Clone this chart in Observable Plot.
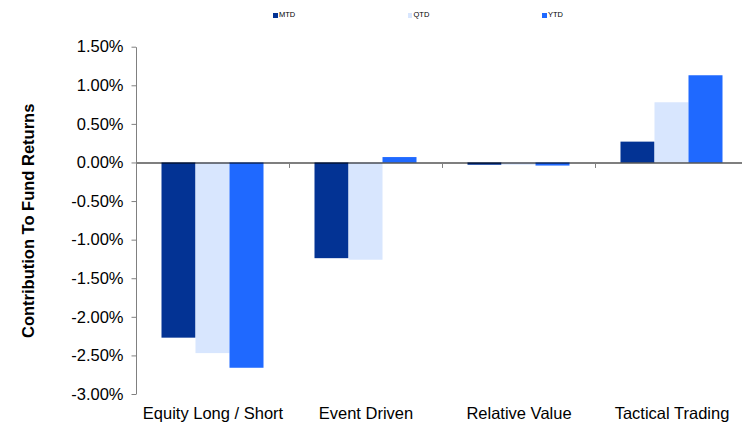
<!DOCTYPE html>
<html><head><meta charset="utf-8">
<script src="https://cdn.jsdelivr.net/npm/d3@7"></script>
<script src="https://cdn.jsdelivr.net/npm/@observablehq/plot@0.6"></script>
<style>
html,body{margin:0;padding:0;background:#fff;overflow:hidden}
body{width:742px;height:425px;font-family:"Liberation Sans",Arial,sans-serif}
#legend{position:relative;height:28px;width:742px}
.item{position:absolute;top:0;height:28px;font-size:7.5px;color:#000;white-space:nowrap}
.sw{position:absolute;top:13.3px;left:0;width:4.5px;height:4.5px}
.lb{position:absolute;left:5.7px;top:10.5px;line-height:8px}
[aria-label="y-axis label"] text{font-weight:bold}
</style></head>
<body><div id="legend"></div><div id="chart"></div>
<script>
const categories = ["Equity Long / Short", "Event Driven", "Relative Value", "Tactical Trading"];
const series = ["MTD", "QTD", "YTD"];
const mtd = [-2.27, -1.24, -0.03, 0.27];
const qtd = [-2.47, -1.26, -0.03, 0.78];
const ytd = [-2.66, 0.07, -0.04, 1.13];
const colors = ["#033394", "#D8E6FE", "#1F69FF"];
const yTicks = [1.5, 1, 0.5, 0, -0.5, -1, -1.5, -2, -2.5, -3];

const valuesBySeries = [mtd, qtd, ytd];
const rows = categories.flatMap((c, i) => series.map((s, j) => ({category: c, series: s, value: valuesBySeries[j][i]})));

// legend
const legend = document.getElementById("legend");
series.forEach((s, j) => {
  const it = document.createElement("div");
  it.className = "item";
  it.style.left = (273.3 + j * 134.5) + "px";
  it.innerHTML = `<div class="sw" style="background:${colors[j]}"></div><div class="lb">${s}</div>`;
  legend.appendChild(it);
});

const tickDown = {draw(ctx) { ctx.moveTo(0, 0); ctx.lineTo(0, 5); }};
const axisLine = {draw(ctx) { ctx.moveTo(0, 0); ctx.lineTo(0, 347.3); }};

const chart = Plot.plot({
  width: 742,
  height: 397,
  marginTop: 18.7,
  marginBottom: 31,
  marginLeft: 134.5,
  marginRight: 0,
  style: {fontFamily: '"Liberation Sans", Arial, sans-serif', fontSize: "16.5px", background: "white", color: "black", overflow: "visible"},
  facet: {marginTop: 0, marginRight: 0, marginBottom: 0, marginLeft: 0},
  fx: {domain: categories, range: [134.5, 749], padding: 0},
  x: {domain: series, paddingInner: 0, paddingOuter: 0.737, axis: null},
  y: {domain: [-3, 1.5]},
  color: {domain: series, range: colors},
  marks: [
    Plot.barY(rows, {fx: "category", x: "series", y: "value", fill: "series"}),
    Plot.ruleY([0], {stroke: "black", strokeOpacity: 0.5, strokeWidth: 2}),
    Plot.dot(categories.slice(1), {fx: d => d, y: () => 0, frameAnchor: "left", symbol: tickDown, stroke: "#808080", strokeWidth: 1, fill: "none"}),
    Plot.dot([categories[0]], {fx: d => d, y: () => yTicks[0], frameAnchor: "left", symbol: axisLine, stroke: "#808080", strokeWidth: 1, fill: "none"}),
    Plot.axisY({
      ticks: yTicks,
      tickFormat: d => d.toFixed(2) + "%",
      tickSize: 4.5,
      tickPadding: 8.5,
      stroke: "#808080",
      fill: "black",
      label: "Contribution To Fund Returns",
      labelAnchor: "center",
      labelOffset: 114,
      labelArrow: "none"
    }),
    Plot.axisFx({anchor: "bottom", tickSize: 0, tickPadding: 13, fill: "black", label: null})
  ]
});
document.getElementById("chart").appendChild(chart);
</script>
</body></html>
